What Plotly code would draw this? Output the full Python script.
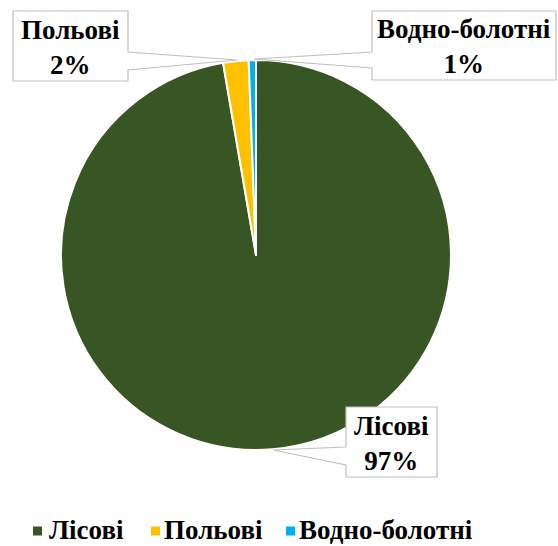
import plotly.graph_objects as go

W, H = 558, 546

categories = ["Лісові", "Польові", "Водно-болотні"]
values = [97.3, 2.1, 0.6]
colors = ["#375623", "#FFC000", "#00B0F0"]

total = sum(values)
pct_labels = [f"{round(v / total * 100)}%" for v in values]

FONT = "Liberation Serif"


def px(x):
    return x / W


def py(y):
    return 1 - y / H


fig = go.Figure()
fig.add_trace(go.Pie(
    labels=categories,
    values=values,
    sort=False,
    direction="clockwise",
    rotation=0,
    marker=dict(colors=colors, line=dict(color="white", width=2)),
    textinfo="none",
    hoverinfo="label+percent",
    showlegend=False,
    domain=dict(x=[px(61), px(451)], y=[py(450), py(60)]),
))

callouts = [
    (1, 13, 11, 128, 81, "right", 52, 70, 237, 60),
    (2, 372, 11, 556, 80, "left", 52, 68, 254, 59),
    (0, 346, 407, 437, 477, "left", 447, 465, 273, 450),
]

shapes = []
annotations = []
for idx, x0, y0, x1, y1, side, pa, pb, tx, ty in callouts:
    if side == "right":
        pts = [(x0, y0), (x1, y0), (x1, pa), (tx, ty), (x1, pb), (x1, y1), (x0, y1)]
    else:
        pts = [(x0, y0), (x1, y0), (x1, y1), (x0, y1), (x0, pb), (tx, ty), (x0, pa)]
    path = "M " + " L ".join(f"{px(a):.5f},{py(b):.5f}" for a, b in pts) + " Z"
    shapes.append(dict(type="path", xref="paper", yref="paper", path=path,
                       fillcolor="white", line=dict(color="#BFBFBF", width=1.2),
                       layer="above"))
    annotations.append(dict(
        x=px((x0 + x1) / 2), y=py((y0 + y1) / 2 + 1), xref="paper", yref="paper",
        text=f"<b>{categories[idx]}<br>{pct_labels[idx]}</b>", showarrow=False,
        xanchor="center", yanchor="middle",
        font=dict(family=FONT, size=27, color="black"),
    ))

# legend keys: square left x and text left x (pixels)
legend_pos = [(33, 48), (151, 163), (286, 298)]
legend_y = 531
for (sx, tx), cat, col in zip(legend_pos, categories, colors):
    shapes.append(dict(type="rect", xref="paper", yref="paper",
                       x0=px(sx), x1=px(sx + 9), y0=py(legend_y + 4.5), y1=py(legend_y - 4.5),
                       fillcolor=col, line=dict(width=0)))
    annotations.append(dict(
        x=px(tx), y=0, xref="paper", yref="paper",
        text=f"<b>{cat}</b>", showarrow=False, xanchor="left", yanchor="bottom",
        font=dict(family=FONT, size=27, color="black"), borderpad=0,
    ))

fig.update_layout(
    width=W, height=H,
    margin=dict(l=0, r=0, t=0, b=0),
    font=dict(family=FONT, color="black"),
    paper_bgcolor="white",
    plot_bgcolor="white",
    shapes=shapes,
    annotations=annotations,
    showlegend=False,
)

fig.write_html("out.html")
